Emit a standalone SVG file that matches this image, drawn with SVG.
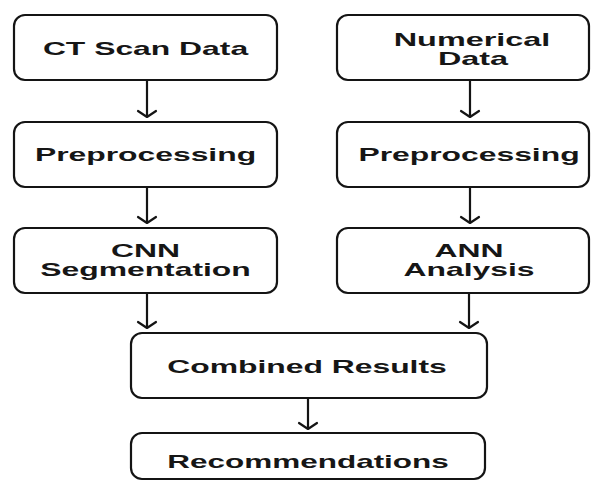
<svg xmlns="http://www.w3.org/2000/svg" width="592" height="481" viewBox="0 0 592 481">
  <defs>
    <style>
      .box { fill: #ffffff; stroke: #141414; stroke-width: 2.2; }
      .lbl { font-family: "Liberation Sans", Arial, sans-serif; font-weight: 700; font-size: 18px; fill: #161616; text-anchor: middle; }
      .edge { fill: none; stroke: #141414; stroke-width: 2.2; stroke-linecap: round; stroke-linejoin: round; }
    </style>
  </defs>
  <rect x="0" y="0" width="592" height="481" fill="#ffffff"/>

  <g id="connectors">
    <path class="edge" d="M147,80 V117 M138,111 L147,117 L156,111"/>
    <path class="edge" d="M147,187 V223 M138,217 L147,223 L156,217"/>
    <path class="edge" d="M147,293 V328 M138,322 L147,328 L156,322"/>
    <path class="edge" d="M470,80 V117 M461,111 L470,117 L479,111"/>
    <path class="edge" d="M470,187 V223 M461,217 L470,223 L479,217"/>
    <path class="edge" d="M469,293 V328 M460,322 L469,328 L478,322"/>
    <path class="edge" d="M308,398 V429 M299,423 L308,429 L317,423"/>
  </g>

  <g id="ct-scan-data">
    <rect class="box" x="14" y="15" width="263" height="65" rx="11"/>
    <text class="lbl" transform="translate(145.5,55) scale(1.77,1)">CT Scan Data</text>
  </g>
  <g id="numerical-data">
    <rect class="box" x="337" y="15" width="252" height="65" rx="11"/>
    <text class="lbl" transform="translate(472,46) scale(1.8,1)">Numerical</text>
    <text class="lbl" transform="translate(473,65) scale(1.8,1)">Data</text>
  </g>
  <g id="preprocessing-left">
    <rect class="box" x="14" y="122" width="263" height="65" rx="11"/>
    <text class="lbl" transform="translate(145.5,161) scale(1.77,1)">Preprocessing</text>
  </g>
  <g id="preprocessing-right">
    <rect class="box" x="337" y="122" width="252" height="65" rx="11"/>
    <text class="lbl" transform="translate(469,161) scale(1.77,1)">Preprocessing</text>
  </g>
  <g id="cnn-segmentation">
    <rect class="box" x="14" y="228" width="263" height="65" rx="11"/>
    <text class="lbl" transform="translate(145.5,256.5) scale(1.77,1)">CNN</text>
    <text class="lbl" transform="translate(145.5,275.5) scale(1.77,1)">Segmentation</text>
  </g>
  <g id="ann-analysis">
    <rect class="box" x="337" y="228" width="252" height="65" rx="11"/>
    <text class="lbl" transform="translate(469,256.5) scale(1.77,1)">ANN</text>
    <text class="lbl" transform="translate(469,275.5) scale(1.77,1)">Analysis</text>
  </g>
  <g id="combined-results">
    <rect class="box" x="131" y="333" width="356" height="65" rx="11"/>
    <text class="lbl" transform="translate(307,373) scale(1.77,1)">Combined Results</text>
  </g>
  <g id="recommendations">
    <rect class="box" x="131" y="433" width="354" height="46" rx="11"/>
    <text class="lbl" transform="translate(308,468) scale(1.75,1)">Recommendations</text>
  </g>
</svg>
